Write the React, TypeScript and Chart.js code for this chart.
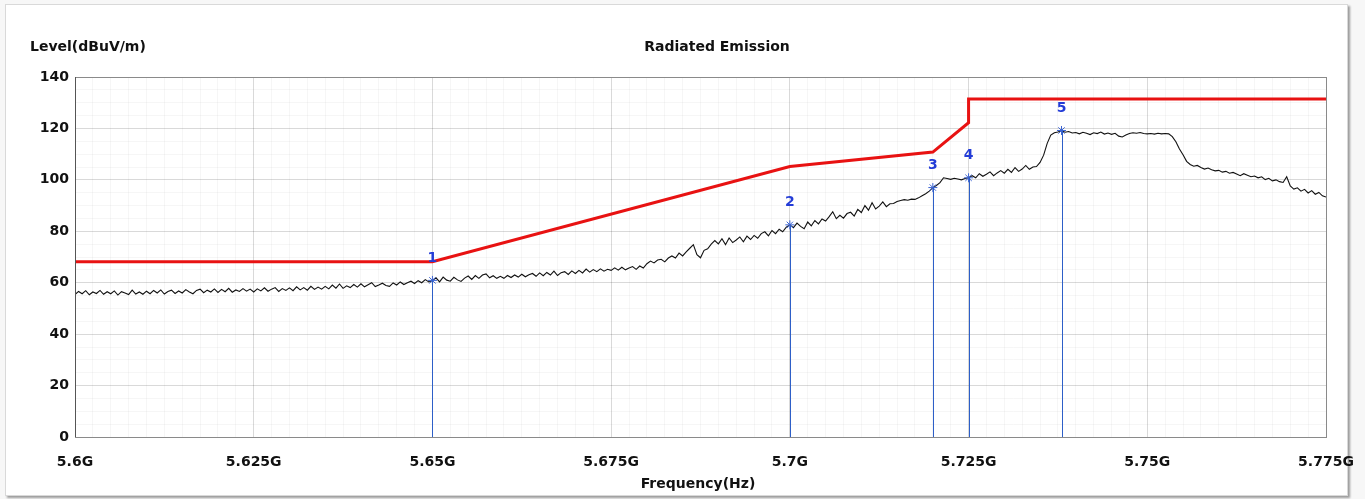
import React, { useEffect, useRef } from "react";
import { Chart, registerables } from "chart.js";

Chart.register(...registerables);

// Sweep: 5.6 GHz .. 5.775 GHz, 0.5 MHz step (351 points)
const SWEEP_START_GHZ = 5.6;
const SWEEP_STEP_GHZ = 0.0005;

const traceLevels: number[] = [
  55.4, 56.6, 55.7, 56.9, 55.3, 56.4, 55.8, 57.0, 55.5, 56.5,
  55.7, 56.8, 55.2, 56.5, 56.0, 55.4, 57.1, 55.6, 56.4, 55.5,
  56.7, 55.7, 57.0, 56.0, 57.2, 55.6, 56.6, 57.1, 55.8, 56.8,
  56.0, 57.3, 56.4, 55.7, 57.0, 57.5, 56.1, 57.1, 56.4, 57.6,
  56.2, 57.4, 56.5, 57.8, 56.3, 57.2, 56.6, 57.7, 56.7, 57.5,
  56.4, 57.6, 56.8, 58.0, 56.7, 57.5, 58.1, 56.6, 57.7, 57.0,
  58.0, 56.9, 58.4, 57.2, 58.1, 57.1, 58.6, 57.4, 58.3, 57.5,
  58.6, 57.6, 59.1, 57.9, 59.5, 57.8, 58.8, 58.1, 59.3, 58.3,
  59.6, 58.4, 59.2, 60.0, 58.5, 59.1, 59.8, 58.9, 58.6, 59.9,
  59.1, 60.3, 59.3, 60.0, 60.6, 59.7, 60.8, 60.0, 61.2, 60.3,
  60.9, 61.9, 60.3, 62.2, 61.0, 60.6, 62.1, 61.1, 60.5, 61.8,
  62.6, 61.3, 62.8, 61.7, 63.0, 63.4, 61.9, 62.7, 61.7, 62.5,
  61.7, 62.8, 62.0, 63.0, 62.2, 63.3, 62.3, 63.1, 63.6, 62.5,
  63.8, 62.7, 64.0, 63.0, 64.5, 62.8, 63.9, 64.3, 63.2, 64.6,
  63.6, 64.8, 63.8, 65.3, 64.1, 65.1, 64.3, 65.4, 64.5, 65.2,
  64.8, 65.8, 64.9, 66.0, 65.0, 65.7, 66.3, 65.2, 66.5, 65.7,
  67.4, 68.4, 67.7, 68.8, 69.1, 68.1, 69.6, 70.4, 69.6, 71.5,
  70.4, 72.0, 73.4, 74.8, 70.9, 69.7, 72.6, 73.2, 75.0, 76.4,
  75.1, 77.1, 74.8, 77.4, 75.6, 76.6, 77.8, 75.9, 78.1, 76.8,
  78.4, 77.3, 79.1, 79.8, 78.2, 80.3, 79.1, 80.8, 79.8, 81.6,
  82.5, 81.4, 83.2, 81.9, 81.0, 83.6, 82.1, 84.2, 82.9, 84.8,
  84.0, 85.7, 87.6, 84.9, 86.2, 85.1, 86.9, 87.4, 85.9, 88.5,
  87.3, 90.0, 88.2, 91.1, 88.7, 89.8, 91.4, 89.6, 90.7, 90.8,
  91.6, 92.0, 92.3, 92.1, 92.5, 92.4, 93.0, 93.8, 94.6, 95.6,
  97.0, 97.8, 98.9, 100.8, 100.5, 100.2, 100.6, 100.3, 100.0, 100.5,
  100.8, 101.6, 100.8, 102.4, 101.4, 102.2, 103.1, 101.6, 102.7, 103.6,
  102.6, 104.1, 102.9, 104.8, 103.3, 104.2, 105.6, 104.1, 105.0, 105.2,
  106.8, 109.6, 114.2, 117.4, 118.3, 118.6, 119.2, 118.5, 118.8, 118.2,
  118.4, 117.9, 118.5, 118.1, 117.6, 118.3, 118.0, 118.6, 117.8, 118.2,
  117.7, 118.1, 117.0, 116.7, 117.4, 118.0, 118.3, 118.1, 118.4, 118.0,
  117.9, 118.0, 117.8, 118.1, 117.9, 118.0, 117.9, 116.8, 114.8, 112.0,
  109.8, 107.2, 106.0, 105.3, 105.6, 104.8, 104.2, 104.6, 103.9, 103.5,
  103.7, 103.0, 103.3, 102.6, 102.9, 102.3, 101.6, 102.4, 101.8, 101.2,
  101.5, 100.8, 101.2, 100.1, 100.6, 99.6, 100.0, 99.3, 99.0, 101.2,
  97.6, 96.4, 96.9, 95.6, 96.3, 94.9, 95.8, 94.4, 95.1, 93.8,
  93.3,
];

const limitFreqs: number[] = [5.6, 5.65, 5.7, 5.72, 5.725, 5.725, 5.775];
const limitLevels: number[] = [68.2, 68.2, 105.2, 110.8, 122.2, 131.4, 131.4];

const markerFreqs: number[] = [5.65, 5.7, 5.72, 5.725, 5.738];
const markerLevels: number[] = [60.9, 82.5, 97.0, 100.8, 119.2];
const markerLabels: string[] = ["1", "2", "3", "4", "5"];

const xTickValues: number[] = [5.6, 5.625, 5.65, 5.675, 5.7, 5.725, 5.75, 5.775];
const xTickLabels: string[] = ["5.6G", "5.625G", "5.65G", "5.675G", "5.7G", "5.725G", "5.75G", "5.775G"];
const yTickValues: number[] = [0, 20, 40, 60, 80, 100, 120, 140];
const yTickLabels: string[] = ["0", "20", "40", "60", "80", "100", "120", "140"];

const TITLE = "Radiated Emission";
const Y_TITLE = "Level(dBuV/m)";
const X_TITLE = "Frequency(Hz)";

const FONT_FAMILY = "'DejaVu Sans', Arial, sans-serif";
const MAJOR_GRID = "rgba(0,0,0,0.15)";
const MINOR_GRID = "rgba(0,0,0,0.035)";

function findIndex(values: number[], v: number): number {
  for (let i = 0; i < values.length; i++) {
    if (Math.abs(values[i] - v) < 1e-7) return i;
  }
  return -1;
}

const overlayPlugin = {
  id: "emiOverlay",
  afterDatasetsDraw(chart: any) {
    const { ctx, scales } = chart;
    const xs = scales.x;
    const ys = scales.y;
    ctx.save();
    ctx.strokeStyle = "rgb(45,95,200)";
    ctx.lineWidth = 1;
    for (let i = 0; i < markerFreqs.length; i++) {
      const px = Math.round(xs.getPixelForValue(markerFreqs[i])) + 0.5;
      const top = ys.getPixelForValue(markerLevels[i]);
      const bottom = ys.getPixelForValue(0);
      ctx.beginPath();
      ctx.moveTo(px, top);
      ctx.lineTo(px, bottom);
      ctx.stroke();
    }
    ctx.fillStyle = "rgb(35,60,215)";
    ctx.font = "bold 14px " + FONT_FAMILY;
    ctx.textAlign = "center";
    ctx.textBaseline = "middle";
    for (let i = 0; i < markerFreqs.length; i++) {
      const px = xs.getPixelForValue(markerFreqs[i]);
      const py = ys.getPixelForValue(markerLevels[i]);
      ctx.fillText(markerLabels[i], px, py - 22);
    }
    ctx.restore();
  },
  afterDraw(chart: any) {
    const { ctx, chartArea } = chart;
    ctx.save();
    ctx.strokeStyle = "#8a8a8a";
    ctx.lineWidth = 1;
    ctx.strokeRect(
      Math.round(chartArea.left) + 0.5,
      Math.round(chartArea.top) + 0.5,
      Math.round(chartArea.right - chartArea.left),
      Math.round(chartArea.bottom - chartArea.top)
    );
    ctx.strokeStyle = "#555";
    ctx.beginPath();
    ctx.moveTo(Math.round(chartArea.left) + 0.5, chartArea.top);
    ctx.lineTo(Math.round(chartArea.left) + 0.5, chartArea.bottom);
    ctx.stroke();

    ctx.fillStyle = "#111";
    ctx.font = "bold 14px " + FONT_FAMILY;
    ctx.textBaseline = "middle";
    ctx.textAlign = "left";
    ctx.fillText(Y_TITLE, 30, 47);
    ctx.textAlign = "center";
    ctx.fillText(TITLE, 717, 47);
    ctx.fillText(X_TITLE, 698, 484);
    ctx.restore();
  },
};

export default function App() {
  const canvasRef = useRef<HTMLCanvasElement | null>(null);

  useEffect(() => {
    const canvas = canvasRef.current;
    if (!canvas) return;

    const traceData = traceLevels.map((v, i) => ({
      x: SWEEP_START_GHZ + i * SWEEP_STEP_GHZ,
      y: v,
    }));
    const limitData = limitFreqs.map((f, i) => ({ x: f, y: limitLevels[i] }));
    const markerData = markerFreqs.map((f, i) => ({ x: f, y: markerLevels[i] }));

    const chart = new Chart(canvas, {
      type: "line",
      data: {
        datasets: [
          {
            label: "Markers",
            data: markerData,
            showLine: false,
            pointStyle: "star",
            pointRadius: 4.5,
            pointBorderColor: "rgb(60,100,210)",
            pointBackgroundColor: "rgb(60,100,210)",
            pointBorderWidth: 1,
            order: 0,
          },
          {
            label: "Limit",
            data: limitData,
            borderColor: "rgb(232,18,18)",
            borderWidth: 3,
            pointRadius: 0,
            tension: 0,
            fill: false,
            order: 1,
          },
          {
            label: "Level",
            data: traceData,
            borderColor: "#111",
            borderWidth: 1.1,
            pointRadius: 0,
            tension: 0,
            fill: false,
            order: 2,
          },
        ],
      },
      options: {
        responsive: false,
        animation: false,
        devicePixelRatio: 1,
        layout: { padding: { left: 0, top: 77, right: 39, bottom: 0 } },
        plugins: {
          legend: { display: false },
          tooltip: { enabled: false },
          title: { display: false },
        },
        scales: {
          x: {
            type: "linear",
            min: 5.6,
            max: 5.775,
            afterFit: (s: any) => {
              s.height = 62;
              s.paddingLeft = 0;
              s.paddingRight = 0;
            },
            border: { display: true, color: "#8a8a8a" },
            grid: {
              drawTicks: false,
              color: (ctx: any) =>
                ctx.tick && findIndex(xTickValues, ctx.tick.value) >= 0 ? MAJOR_GRID : MINOR_GRID,
            },
            ticks: {
              stepSize: 0.0025,
              autoSkip: false,
              maxRotation: 0,
              minRotation: 0,
              padding: 17,
              color: "#111",
              font: { family: FONT_FAMILY, size: 14, weight: "bold" },
              callback: (v: any) => {
                const idx = findIndex(xTickValues, Number(v));
                return idx >= 0 ? xTickLabels[idx] : "";
              },
            },
          },
          y: {
            type: "linear",
            min: 0,
            max: 140,
            afterFit: (s: any) => {
              s.width = 75;
              s.paddingTop = 0;
              s.paddingBottom = 0;
            },
            border: { display: true, color: "#555" },
            grid: {
              drawTicks: false,
              color: (ctx: any) =>
                ctx.tick && findIndex(yTickValues, ctx.tick.value) >= 0 ? MAJOR_GRID : MINOR_GRID,
            },
            ticks: {
              stepSize: 5,
              autoSkip: false,
              padding: 6,
              color: "#111",
              font: { family: FONT_FAMILY, size: 14, weight: "bold" },
              callback: (v: any) => {
                const idx = findIndex(yTickValues, Number(v));
                return idx >= 0 ? yTickLabels[idx] : "";
              },
            },
          },
        },
      },
      plugins: [overlayPlugin],
    } as any);

    return () => {
      chart.destroy();
    };
  }, []);

  return (
    <div
      style={{
        position: "absolute",
        left: 0,
        top: 0,
        width: 1365,
        height: 499,
        background: "#f7f7f7",
        overflow: "hidden",
      }}
    >
      <div
        style={{
          position: "absolute",
          left: 5,
          top: 4,
          width: 1341,
          height: 490,
          background: "#ffffff",
          border: "1px solid #d9d9d9",
          boxShadow: "2px 2px 2px #9c9c9c",
        }}
      />
      <canvas
        ref={canvasRef}
        width={1365}
        height={499}
        style={{ position: "absolute", left: 0, top: 0, width: 1365, height: 499 }}
      />
    </div>
  );
}
